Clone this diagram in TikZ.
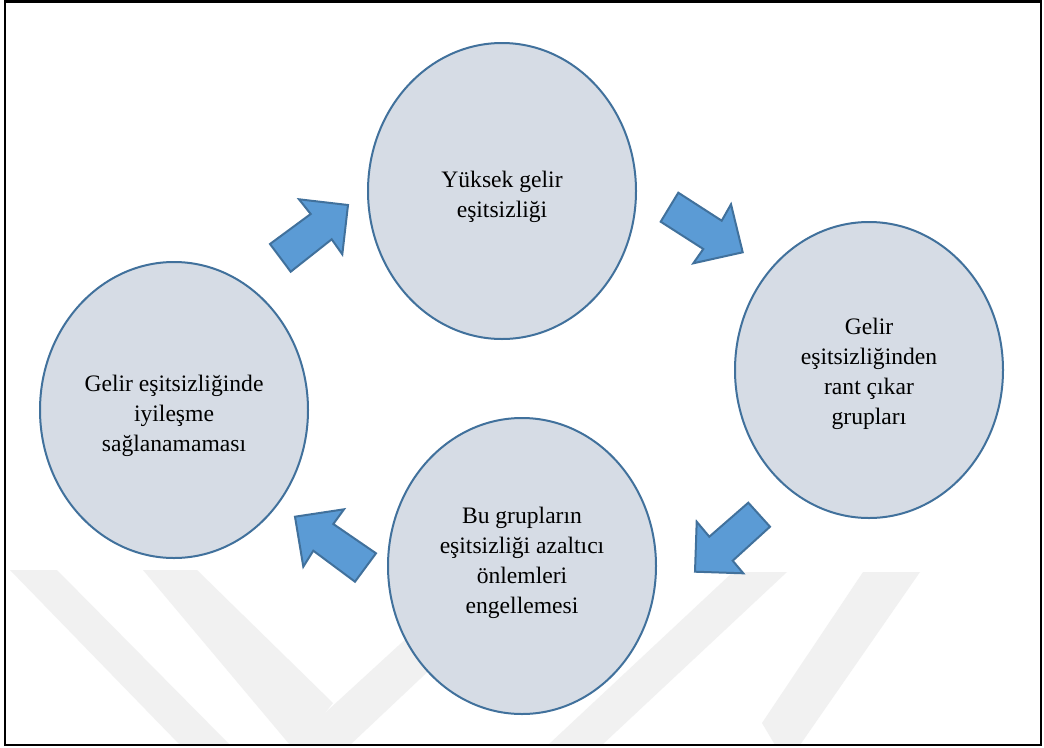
\documentclass[tikz,border=0pt]{standalone}
\usepackage{fontspec}
\setmainfont{Liberation Serif}
\newfontfamily\tnr{Liberation Serif}
\usetikzlibrary{shapes.geometric}
\definecolor{ellfill}{HTML}{D6DCE5}
\definecolor{ellline}{HTML}{41719C}
\definecolor{arrfill}{HTML}{5B9BD5}
\definecolor{wmark}{HTML}{F1F1F1}
\tikzset{
  cyc/.style={ellipse, draw=ellline, fill=ellfill, line width=2pt,
    minimum width=268pt, minimum height=296pt, inner sep=0pt},
  txt/.style={align=center, inner sep=0pt, font=\tnr\fontsize{23.6}{30}\selectfont, text=black},
  blockarrow/.style={draw=ellline, fill=arrfill, line width=2pt, line join=miter},
  wm/.style={fill=wmark, draw=none}
}
\begin{document}
\begin{tikzpicture}[x=1pt,y=-1pt]
\useasboundingbox (0,0) rectangle (1044,747);
\fill[white] (0,0) rectangle (1044,747);
% watermark
\begin{scope}
\clip (6,3) rectangle (1040,744);
\fill[wm] (10,570) -- (57,570) -- (230,745) -- (180,745) -- cycle;
\fill[wm] (143,570) -- (197,570) -- (333,703) -- (300,745) -- (290,745) -- cycle;
\fill[wm] (290,745) -- (470,580) -- (525,580) -- (350,745) -- cycle;
\fill[wm] (733,572) -- (787,572) -- (602,745) -- (548,745) -- cycle;
\fill[wm] (863,572) -- (920,572) -- (800,745) -- (775,745) -- (762,723) -- cycle;
\end{scope}
% border
\draw[line width=2.5pt] (5,1.5) rectangle (1041,745);
% ellipses
\node[cyc] (top) at (502,191) {};
\node[cyc] (right) at (869,370) {};
\node[cyc] (bottom) at (522,566) {};
\node[cyc] (left) at (174,410) {};
\node[txt] (topT) at ([yshift=-6pt]top.center) {Yüksek gelir\\eşitsizliği};
\node[txt] (rightT) at ([yshift=-4pt]right.center) {Gelir\\eşitsizliğinden\\rant çıkar\\grupları};
\node[txt] (bottomT) at ([yshift=3pt]bottom.center) {Bu grupların\\eşitsizliği azaltıcı\\önlemleri\\engellemesi};
\node[txt] (leftT) at ([yshift=-6pt]left.center) {Gelir eşitsizliğinde\\iyileşme\\sağlanamaması};
% block arrows
\draw[blockarrow] (270,244) -- (310.7,214) -- (299,199.3) -- (348,205) -- (342.3,254.3) -- (331.7,239.3) -- (290.7,271.7) -- cycle;
\draw[blockarrow] (678.3,192.7) -- (721.7,220.7) -- (731,204.3) -- (742.7,252.3) -- (693.3,263.3) -- (703.3,249) -- (660.7,221.7) -- cycle;
\draw[blockarrow] (748.3,502.7) -- (770,526.7) -- (732.7,560.7) -- (743.3,573.3) -- (695,571.7) -- (696.7,521.7) -- (709.3,536.7) -- cycle;
\draw[blockarrow] (295,516.7) -- (344,509.3) -- (333.3,524) -- (376,553.3) -- (355,581.7) -- (313.3,550.7) -- (303.3,566.7) -- cycle;
\end{tikzpicture}
\end{document}
